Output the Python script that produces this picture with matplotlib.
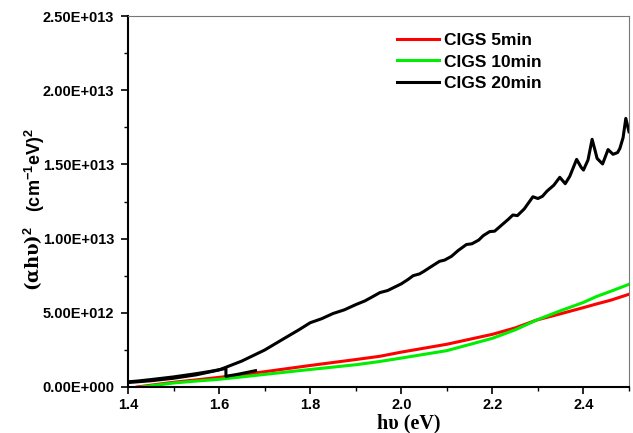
import matplotlib
matplotlib.use("Agg")
import matplotlib.pyplot as plt
from matplotlib.ticker import MultipleLocator, FuncFormatter
import numpy as np

plt.rcParams['font.family'] = ['Liberation Sans', 'DejaVu Sans']
plt.rcParams['font.weight'] = 'bold'
plt.rcParams['mathtext.fontset'] = 'custom'
plt.rcParams['mathtext.rm'] = 'Liberation Sans:bold'
plt.rcParams['mathtext.bf'] = 'Liberation Sans:bold'
plt.rcParams['mathtext.it'] = 'Liberation Sans:bold'

# photon energy (eV) and (alpha*h*nu)^2 values, in units of 1e12
e_5min = [1.42, 1.45, 1.50, 1.55, 1.60, 1.65, 1.70, 1.80, 1.90, 1.953, 2.00, 2.10,
          2.20, 2.25, 2.297, 2.348, 2.40, 2.428, 2.46, 2.50]
y_5min = [0.00, 0.12, 0.32, 0.48, 0.65, 0.83, 1.03, 1.45, 1.85, 2.07, 2.35, 2.88,
          3.55, 3.98, 4.51, 4.92, 5.35, 5.59, 5.85, 6.25]

e_10min = [1.43, 1.45, 1.50, 1.55, 1.60, 1.65, 1.70, 1.80, 1.90, 1.953, 2.00, 2.10,
           2.20, 2.25, 2.297, 2.348, 2.40, 2.428, 2.46, 2.50]
y_10min = [0.00, 0.08, 0.27, 0.40, 0.52, 0.68, 0.85, 1.18, 1.50, 1.72, 1.95, 2.45,
           3.28, 3.85, 4.51, 5.12, 5.70, 6.09, 6.45, 6.92]

e_20min = [1.40, 1.45, 1.50, 1.55, 1.60, 1.65, 1.70, 1.75, 1.775, 1.80, 1.825,
           1.85, 1.875, 1.90, 1.92, 1.935, 1.953, 1.97, 1.99, 2.00, 2.015, 2.026,
           2.04, 2.05, 2.065, 2.084, 2.095, 2.11, 2.125, 2.143, 2.155, 2.17, 2.18,
           2.194, 2.205, 2.22, 2.235, 2.245, 2.255, 2.27, 2.289, 2.30, 2.31, 2.32,
           2.335, 2.348, 2.36, 2.37, 2.385, 2.395, 2.40, 2.41, 2.419, 2.425, 2.43,
           2.442, 2.454, 2.465, 2.475, 2.48, 2.487, 2.493, 2.50]
y_20min = [0.30, 0.42, 0.59, 0.82, 1.15, 1.75, 2.49, 3.40, 3.85, 4.33, 4.60,
           4.95, 5.20, 5.55, 5.80, 6.05, 6.36, 6.50, 6.80, 6.95, 7.25, 7.50,
           7.62, 7.80, 8.10, 8.47, 8.55, 8.80, 9.20, 9.60, 9.65, 9.90, 10.20,
           10.47, 10.50, 10.90, 11.30, 11.59, 11.55, 12.00, 12.82, 12.70, 12.85, 13.20,
           13.60, 14.13, 13.70, 14.20, 15.34, 14.80, 14.62, 15.30, 16.69, 16.00, 15.40,
           15.03, 16.00, 15.68, 15.80, 16.08, 16.80, 18.10, 17.20]

# second pass of the 20 min scan at the low-energy end
e_20min_b = [1.40, 1.42, 1.45, 1.50, 1.55, 1.58, 1.615, 1.615, 1.64, 1.68]
y_20min_b = [0.35, 0.40, 0.50, 0.68, 0.90, 1.05, 1.25, 0.72, 0.85, 1.10]

labels = ['CIGS 5min', 'CIGS 10min', 'CIGS 20min']
colors = ['#FF0000', '#00EE00', '#000000']

fig = plt.figure(figsize=(6.33, 4.33), dpi=100)
ax = fig.add_axes([128/633, 1-387/433, (629-128)/633, (387-16)/433])

lw = 2.2
ax.plot(e_5min, np.array(y_5min)*1e12, color=colors[0], lw=lw, label=labels[0])
ax.plot(e_10min, np.array(y_10min)*1e12, color=colors[1], lw=lw, label=labels[1])
ax.plot(e_20min, np.array(y_20min)*1e12, color=colors[2], lw=lw, label=labels[2])
ax.plot(e_20min_b, np.array(y_20min_b)*1e12, color=colors[2], lw=lw)

ax.set_xlim(1.4, 2.5)
ax.set_ylim(0, 2.5e13)

ax.xaxis.set_major_locator(MultipleLocator(0.2))
ax.xaxis.set_minor_locator(MultipleLocator(0.1))
ax.yaxis.set_major_locator(MultipleLocator(5e12))
ax.yaxis.set_minor_locator(MultipleLocator(2.5e12))


def sci(v, pos):
    if v == 0:
        return '0.00E+000'
    exp = int(np.floor(np.log10(abs(v))))
    return '%.2fE+%03d' % (v / 10**exp, exp)


ax.yaxis.set_major_formatter(FuncFormatter(sci))
ax.xaxis.set_major_formatter(FuncFormatter(lambda v, p: '%.1f' % v))

ax.tick_params(which='major', direction='out', length=5, width=1.2,
               labelsize=10.5, pad=3)
ax.tick_params(axis='y', which='major', pad=5)
ax.tick_params(which='minor', direction='out', length=3, width=1.0)
ax.tick_params(top=False, right=False)

for s in ['left', 'bottom']:
    ax.spines[s].set_linewidth(1.5)
    ax.spines[s].set_color('black')
for s in ['top', 'right']:
    ax.spines[s].set_linewidth(0.8)
    ax.spines[s].set_color('#777777')

leg = ax.legend(loc='upper left', bbox_to_anchor=(397/633, 1-33/433),
                bbox_transform=fig.transFigure, frameon=False, fontsize=12.5,
                handlelength=2.4, handletextpad=0.3, labelspacing=0.36,
                borderpad=0, borderaxespad=0)

# axis labels
fig.text(409/633, 1-423/433, 'h\u03c5 (eV)', family='Liberation Serif',
         fontsize=14.5, fontweight='bold', ha='center', va='center')
fig.text(33/633, 1-291/433, '(\u03b1h\u03c5)$^{2}$', family='DejaVu Serif',
         fontsize=13, fontweight='bold', rotation=90, ha='center', va='bottom')
fig.text(35/633, 1-128/433, ' (cm$^{-1}$eV)$^{2}$', fontsize=13,
         fontweight='bold', rotation=90, ha='center', va='top')

fig.savefig('out.png', dpi=100)
